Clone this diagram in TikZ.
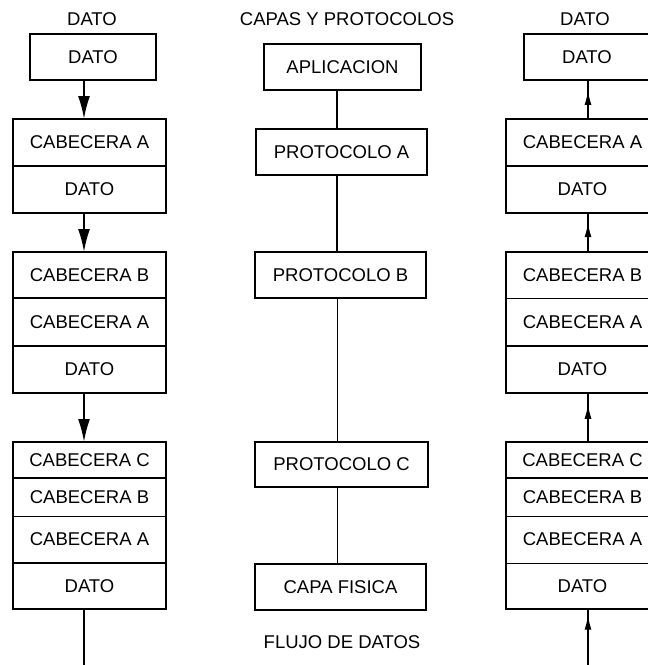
\documentclass[tikz,border=0pt]{standalone}
\usepackage{fontspec}
\setmainfont{Liberation Sans}
\usetikzlibrary{arrows.meta,decorations.markings}
\tikzset{
  lbl/.style={font=\fontsize{18.5}{21}\selectfont, inner sep=0pt},
  cell/.style={draw, line width=1.8pt, font=\fontsize{18.5}{21}\selectfont, inner sep=0pt, outer sep=0pt, anchor=north west},
  thincell/.style={cell, line width=1pt},
  frame/.style={draw, line width=1.8pt},
  downarrow/.style={line width=2pt, -{Latex[length=23pt,width=12pt]}},
  conn/.style={line width=1.2pt},
  uparrow/.style={line width=1.1pt, postaction={decorate},
    decoration={markings, mark=at position #1 with {\arrow{Latex[length=14pt,width=7pt]}}}}
}
\begin{document}
\begin{tikzpicture}[x=1pt,y=-1pt]
\useasboundingbox (0,0) rectangle (648,665);
\clip (0,0) rectangle (648,665);
% axes for the connectors
\coordinate (xl) at (84,0);
\coordinate (xm) at (337,0);
\coordinate (xr) at (588,0);
\coordinate (lb) at (84,665);
\coordinate (rb) at (588,665);

% ---------- titles ----------
\node[lbl] (t1) at (92,19) {DATO};
\node[lbl] (t2) at (347,19) {CAPAS Y PROTOCOLOS};
\node[lbl] (t3) at (585,19) {DATO};
\node[lbl] (t4) at (342,642) {FLUJO DE DATOS};

% ---------- left column ----------
\node[cell, minimum width=126pt, minimum height=46pt] (L1) at (30,34) {DATO};
\node[cell, minimum width=153pt, minimum height=47pt] (L2a) at (13,119) {CABECERA A};
\node[cell, minimum width=153pt, minimum height=47pt] (L2b) at (13,166) {DATO};
\node[cell, minimum width=153pt, minimum height=46pt] (L3a) at (13,252) {CABECERA B};
\node[cell, minimum width=153pt, minimum height=48pt] (L3b) at (13,298) {CABECERA A};
\node[cell, minimum width=153pt, minimum height=47pt] (L3c) at (13,346) {DATO};
\node[cell, minimum width=153pt, minimum height=36pt] (L4a) at (13,442) {CABECERA C};
\node[thincell, minimum width=153pt, minimum height=38pt] (L4b) at (13,478) {CABECERA B};
\node[thincell, minimum width=153pt, minimum height=47pt] (L4c) at (13,516) {CABECERA A};
\node[cell, minimum width=153pt, minimum height=46pt] (L4d) at (13,563) {DATO};
\draw[frame] (L4a.north west) rectangle (L4d.south east);

\draw[downarrow] (L1.south -| xl) -- (L2a.north -| xl);
\draw[downarrow] (L2b.south -| xl) -- (L3a.north -| xl);
\draw[downarrow] (L3c.south -| xl) -- (L4a.north -| xl);
\draw[line width=2pt] (L4d.south -| xl) -- (lb);

% ---------- middle column ----------
\node[cell, minimum width=157pt, minimum height=46pt] (M1) at (264,44) {APLICACION};
\node[cell, minimum width=171pt, minimum height=46pt] (M2) at (256,129) {PROTOCOLO A};
\node[cell, minimum width=171pt, minimum height=46pt] (M3) at (255,252) {PROTOCOLO B};
\node[cell, minimum width=173pt, minimum height=45pt] (M4) at (255,442) {PROTOCOLO C};
\node[cell, line width=1.5pt, minimum width=171pt, minimum height=46pt] (M5) at (255,564) {CAPA FISICA};

\draw[conn] (M1.south -| xm) -- (M2.north -| xm);
\draw[conn] (M2.south -| xm) -- (M3.north -| xm);
\draw[line width=1pt] (M3.south -| xm) -- (M4.north -| xm);
\draw[line width=1pt] (M4.south -| xm) -- (M5.north -| xm);

% ---------- right column ----------
\node[cell, minimum width=126pt, minimum height=46pt] (R1) at (524,34) {DATO};
\node[cell, minimum width=153pt, minimum height=47pt] (R2a) at (506,119) {CABECERA A};
\node[thincell, minimum width=153pt, minimum height=47pt] (R2b) at (506,166) {DATO};
\draw[frame] (R2a.north west) rectangle (R2b.south east);
\node[thincell, minimum width=153pt, minimum height=46pt] (R3a) at (506,252) {CABECERA B};
\node[thincell, minimum width=153pt, minimum height=48pt] (R3b) at (506,298) {CABECERA A};
\node[cell, minimum width=153pt, minimum height=47pt] (R3c) at (506,346) {DATO};
\draw[frame] (R3a.north west) rectangle (R3c.south east);
\node[cell, minimum width=153pt, minimum height=36pt] (R4a) at (506,442) {CABECERA C};
\node[thincell, minimum width=153pt, minimum height=38pt] (R4b) at (506,478) {CABECERA B};
\node[thincell, minimum width=153pt, minimum height=47pt] (R4c) at (506,516) {CABECERA A};
\node[thincell, minimum width=153pt, minimum height=46pt] (R4d) at (506,563) {DATO};
\draw[frame] (R4a.north west) rectangle (R4d.south east);

\draw[uparrow=0.72] (R2a.north -| xr) -- (R1.south -| xr);
\draw[uparrow=0.74] (R3a.north -| xr) -- (R2b.south -| xr);
\draw[uparrow=0.76] (R4a.north -| xr) -- (R3c.south -| xr);
\draw[uparrow=0.88] (rb) -- (R4d.south -| xr);
\end{tikzpicture}
\end{document}
